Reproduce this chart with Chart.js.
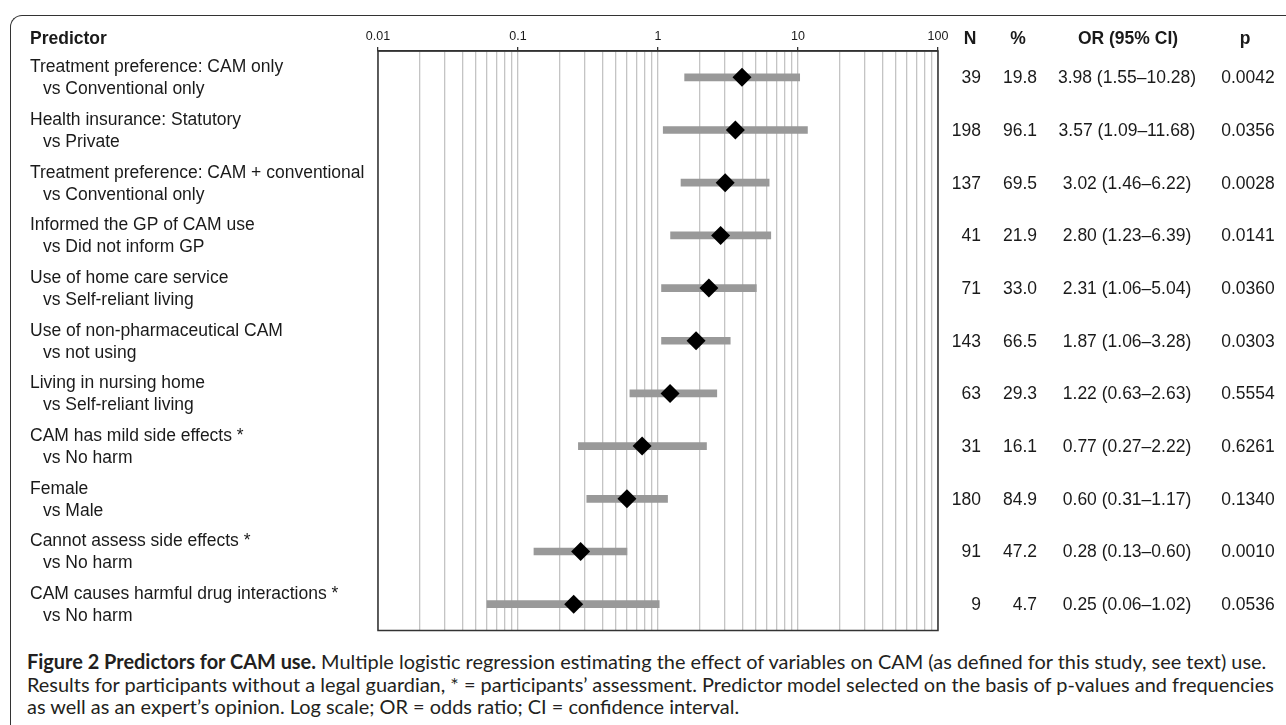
<!DOCTYPE html>
<html>
<head>
<meta charset="utf-8">
<script src="https://cdn.jsdelivr.net/npm/chart.js@4.4.1/dist/chart.umd.min.js"></script>
<style>
  html, body { margin: 0; padding: 0; background: #fff; width: 1286px; height: 725px; overflow: hidden; }
  #frame { position: absolute; left: 10px; top: 15px; width: 1400px; height: 800px;
           border-top: 1.5px solid #333; border-left: 1.5px solid #333; border-top-left-radius: 12px; }
  #chart { position: absolute; left: 0; top: 0; }
  #caption { position: absolute; left: 27px; top: 650px; font-family: "Lato", "Open Sans", sans-serif;
             color: #231f20; line-height: 22.5px; white-space: nowrap; font-size: 17px; }
  #caption b { font-weight: 700; }
</style>
</head>
<body>
<div id="frame"></div>
<canvas id="chart" width="1286" height="640"></canvas>
<div id="caption">
  <div class="cl" id="cl1"><b>Figure 2 Predictors for CAM use.</b> Multiple logistic regression estimating the effect of variables on CAM (as defined for this study, see text) use.</div>
  <div class="cl">Results for participants without a legal guardian, * = participants’ assessment. Predictor model selected on the basis of p-values and frequencies</div>
  <div class="cl">as well as an expert’s opinion. Log scale; OR = odds ratio; CI = confidence interval.</div>
</div>
<script>
// ---- Data ----
const predictors = [
  "Treatment preference: CAM only",
  "Health insurance: Statutory",
  "Treatment preference: CAM + conventional",
  "Informed the GP of CAM use",
  "Use of home care service",
  "Use of non-pharmaceutical CAM",
  "Living in nursing home",
  "CAM has mild side effects *",
  "Female",
  "Cannot assess side effects *",
  "CAM causes harmful drug interactions *"
];
const references = [
  "vs Conventional only",
  "vs Private",
  "vs Conventional only",
  "vs Did not inform GP",
  "vs Self-reliant living",
  "vs not using",
  "vs Self-reliant living",
  "vs No harm",
  "vs Male",
  "vs No harm",
  "vs No harm"
];
const nValues   = [39, 198, 137, 41, 71, 143, 63, 31, 180, 91, 9];
const pctValues = [19.8, 96.1, 69.5, 21.9, 33.0, 66.5, 29.3, 16.1, 84.9, 47.2, 4.7];
const orValues  = [3.98, 3.57, 3.02, 2.80, 2.31, 1.87, 1.22, 0.77, 0.60, 0.28, 0.25];
const ciLow     = [1.55, 1.09, 1.46, 1.23, 1.06, 1.06, 0.63, 0.27, 0.31, 0.13, 0.06];
const ciHigh    = [10.28, 11.68, 6.22, 6.39, 5.04, 3.28, 2.63, 2.22, 1.17, 0.60, 1.02];
const pValues   = ["0.0042", "0.0356", "0.0028", "0.0141", "0.0360", "0.0303", "0.5554", "0.6261", "0.1340", "0.0010", "0.0536"];
const majorTicks = [0.01, 0.1, 1, 10, 100];
const tickLabels = ["0.01", "0.1", "1", "10", "100"];
const headers = ["Predictor", "N", "%", "OR (95% CI)", "p"];

// gridline positions: each decade and its 2..9 multiples
const gridValues = [];
for (let d = 0; d < majorTicks.length; d++) {
  gridValues.push(majorTicks[d]);
  if (d < majorTicks.length - 1) {
    for (let m = 2; m <= 9; m++) gridValues.push(parseFloat((majorTicks[d] * m).toPrecision(6)));
  }
}
const isMajor = v => majorTicks.some(t => Math.abs(t - v) / t < 1e-6);

const LABEL_FONT = '17.5px "Liberation Sans", Arial, sans-serif';
const BOLD_FONT = 'bold 17.5px "Liberation Sans", Arial, sans-serif';
const TEXT = '#1a1a1a';

const tablePlugin = {
  id: 'table',
  beforeDatasetsDraw(chart) {
    const ctx = chart.ctx, a = chart.chartArea;
    ctx.save();
    ctx.strokeStyle = '#333';
    ctx.lineWidth = 1.5;
    ctx.strokeRect(a.left, a.top, a.right - a.left, a.bottom - a.top);
    ctx.restore();
  },
  afterDraw(chart) {
    const ctx = chart.ctx, ys = chart.scales.y;
    ctx.save();
    ctx.fillStyle = TEXT;
    ctx.textBaseline = 'middle';
    // headers
    ctx.font = BOLD_FONT;
    const hy = 39;
    ctx.textAlign = 'left';  ctx.fillText(headers[0], 30, hy);
    ctx.textAlign = 'center';
    ctx.fillText(headers[1], 970, hy);
    ctx.fillText(headers[2], 1018, hy);
    ctx.fillText(headers[3], 1128, hy);
    ctx.fillText(headers[4], 1245, hy);
    // rows
    ctx.font = LABEL_FONT;
    for (let i = 0; i < predictors.length; i++) {
      const y = ys.getPixelForValue(i);
      ctx.textAlign = 'left';
      ctx.fillText(predictors[i], 30, y - 10);
      ctx.fillText(references[i], 43, y + 12);
      ctx.textAlign = 'right';
      ctx.fillText(String(nValues[i]), 981, y + 1);
      ctx.fillText(pctValues[i].toFixed(1), 1037, y + 1);
      ctx.textAlign = 'center';
      ctx.fillText(orValues[i].toFixed(2) + ' (' + ciLow[i].toFixed(2) + '\u2013' + ciHigh[i].toFixed(2) + ')', 1127, y + 1);
      ctx.fillText(pValues[i], 1248, y + 1);
    }
    ctx.restore();
  }
};

new Chart(document.getElementById('chart'), {
  type: 'bar',
  data: {
    labels: predictors,
    datasets: [
      {
        type: 'bar',
        data: ciLow.map((lo, i) => [lo, ciHigh[i]]),
        backgroundColor: '#999999',
        borderWidth: 0,
        barThickness: 7,
        order: 2
      },
      {
        type: 'line',
        indexAxis: 'y',
        data: orValues.map((v, i) => ({ x: v, y: predictors[i] })),
        showLine: false,
        pointStyle: 'rectRot',
        pointRadius: 9.5,
        pointBorderWidth: 0,
        pointBackgroundColor: '#000',
        pointBorderColor: '#000',
        order: 1
      }
    ]
  },
  options: {
    indexAxis: 'y',
    responsive: false,
    animation: false,
    events: [],
    devicePixelRatio: 1,
    layout: { padding: { left: 378, right: 348, top: 0, bottom: 9 } },
    plugins: { legend: { display: false }, tooltip: { enabled: false } },
    scales: {
      y: { type: 'category', display: false, offset: true },
      x: {
        type: 'logarithmic',
        position: 'top',
        min: 0.01,
        max: 100,
        afterBuildTicks: (scale) => { scale.ticks = gridValues.map(v => ({ value: v })); },
        afterFit: (scale) => { scale.height = 51; },
        border: { display: true, color: '#333', width: 1.5 },
        grid: {
          color: '#c4c4c4',
          lineWidth: 1.3,
          drawTicks: true,
          tickLength: 4,
          tickColor: (c) => (c.tick && isMajor(c.tick.value)) ? '#333' : 'rgba(0,0,0,0)',
          tickWidth: 1.3
        },
        ticks: {
          autoSkip: false,
          maxRotation: 0,
          padding: 3,
          color: TEXT,
          font: { family: '"Liberation Sans", Arial, sans-serif', size: 12.5 },
          callback: (v) => {
            const k = majorTicks.findIndex(t => Math.abs(t - v) / t < 1e-6);
            return k >= 0 ? tickLabels[k] : '';
          }
        }
      }
    }
  },
  plugins: [tablePlugin]
});

// fit caption's first line to the reference width
(function fitCaption() {
  const cap = document.getElementById('caption');
  const l1 = document.getElementById('cl1');
  const r = document.createRange(); r.selectNodeContents(l1);
  const w = r.getBoundingClientRect().width;
  if (w > 0) cap.style.fontSize = (17 * 1240 / w).toFixed(2) + 'px';
})();
</script>
</body>
</html>
